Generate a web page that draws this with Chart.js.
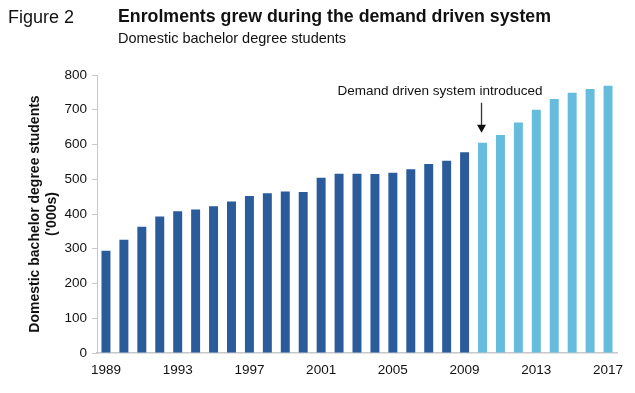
<!DOCTYPE html>
<html>
<head>
<meta charset="utf-8">
<script src="https://cdn.jsdelivr.net/npm/chart.js@4"></script>
<style>
  body { margin: 0; background: #fff; font-family: "Liberation Sans", Arial, sans-serif; }
  #wrap { position: relative; width: 635px; height: 393px; }
  .fig { position: absolute; left: 8px; top: 7px; font-size: 18px; color: #111; }
  .ttl { position: absolute; left: 118px; top: 6px; font-size: 17.75px; font-weight: bold; color: #111; }
  .sub { position: absolute; left: 118px; top: 30px; font-size: 14.5px; color: #111; }
  canvas { position: absolute; left: 0; top: 0; }
</style>
</head>
<body>
<div id="wrap">
  <canvas id="chart" width="635" height="393"></canvas>
  <div class="fig">Figure 2</div>
  <div class="ttl">Enrolments grew during the demand driven system</div>
  <div class="sub">Domestic bachelor degree students</div>
</div>
<script>
const years = [];
for (let y = 1989; y <= 2017; y++) years.push(String(y));

// thousands of students
const students = [294, 326, 363, 393, 408, 413, 422, 436, 452, 460, 465, 463, 504, 516,
  516, 515, 519, 529, 544, 553, 578, 605, 627, 663, 700, 731, 749, 760, 769];

const introYear = '2010';
const noteText = 'Demand driven system introduced';

const darkBlue = '#2a5b9b';
const lightBlue = '#66bcdc';
const barColors = years.map(y => (+y >= +introYear ? lightBlue : darkBlue));
const font = '"Liberation Sans", Arial, sans-serif';

const notePlugin = {
  id: 'note',
  afterDatasetsDraw(chart) {
    const ctx = chart.ctx;
    const xs = chart.scales.x, ys = chart.scales.y;
    const idx = years.indexOf(introYear);
    const x = xs.getPixelForValue(idx) - 1;
    const top = ys.getPixelForValue(students[idx]);
    ctx.save();
    ctx.fillStyle = '#111';
    ctx.font = '13.5px ' + font;
    ctx.textAlign = 'center';
    ctx.textBaseline = 'middle';
    ctx.fillText(noteText, 440, top - 51);
    ctx.strokeStyle = '#333';
    ctx.lineWidth = 1.3;
    ctx.beginPath();
    ctx.moveTo(x, top - 40);
    ctx.lineTo(x, top - 16);
    ctx.stroke();
    ctx.beginPath();
    ctx.moveTo(x - 4.5, top - 18);
    ctx.lineTo(x + 4.5, top - 18);
    ctx.lineTo(x, top - 10);
    ctx.closePath();
    ctx.fillStyle = '#111';
    ctx.fill();
    ctx.restore();
  }
};

new Chart(document.getElementById('chart'), {
  type: 'bar',
  data: {
    labels: years,
    datasets: [{
      data: students,
      backgroundColor: barColors,
      barPercentage: 0.5,
      categoryPercentage: 1
    }]
  },
  options: {
    responsive: false,
    animation: false,
    layout: { padding: { top: 75, right: 18, left: 25, bottom: 0 } },
    plugins: { legend: { display: false }, tooltip: { enabled: false } },
    scales: {
      x: {
        afterFit: s => { s.height = 40; },
        grid: { display: false },
        border: { color: '#c8c8c8', width: 1.5 },
        ticks: {
          autoSkip: false,
          maxRotation: 0,
          color: '#111',
          font: { size: 13.5, family: font },
          padding: 1,
          callback: (v, i) => (i % 4 === 0 ? years[i] : '')
        }
      },
      y: {
        min: 0,
        max: 800,
        afterFit: s => { s.width = 72; },
        ticks: {
          stepSize: 100,
          color: '#111',
          font: { size: 13.5, family: font },
          padding: 5
        },
        grid: { drawOnChartArea: false, drawTicks: true, tickLength: 5, color: '#c8c8c8' },
        border: { color: '#c8c8c8', width: 1 },
        title: {
          display: true,
          text: ['Domestic bachelor degree students', "('000s)"],
          color: '#111',
          font: { size: 14, weight: 'bold', family: font, lineHeight: 1.2 },
          padding: 2
        }
      }
    }
  },
  plugins: [notePlugin]
});
</script>
</body>
</html>
